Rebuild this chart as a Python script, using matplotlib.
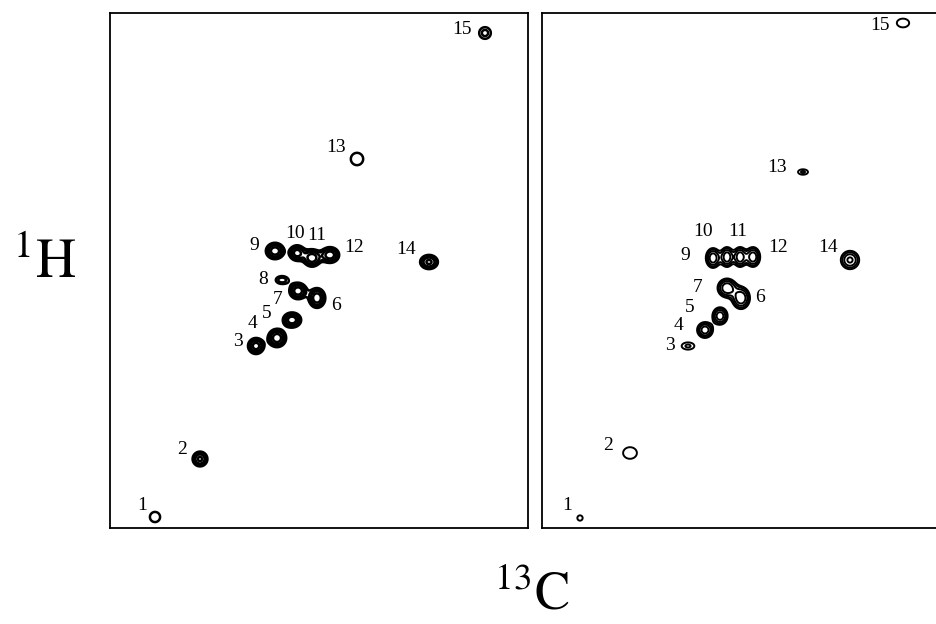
import matplotlib
matplotlib.use("Agg")
import matplotlib.pyplot as plt
import numpy as np

plt.rcParams['font.family'] = ['Liberation Serif', 'DejaVu Serif']
plt.rcParams['mathtext.fontset'] = 'stix'

# peak list, left spectrum (13C / 1H positions in arbitrary units, 10 px each)
left_ids = ['1', '2', '3', '4', '5', '6', '7', '8', '9', '10', '11', '12', '13', '14', '15']
left_c = [4.5, 9.0, 14.6, 16.7, 18.2, 20.7, 18.8, 17.2, 16.5, 18.7, 20.2, 22.0, 24.7, 31.9, 37.5]
left_h = [1.1, 6.9, 18.2, 19.0, 20.8, 23.0, 23.7, 24.8, 27.7, 27.5, 27.0, 27.3, 36.9, 26.6, 49.5]
left_amp = [1.3, 3.0, 3.3, 3.5, 3.5, 3.6, 3.5, 1.7, 3.5, 3.3, 3.5, 3.5, 1.3, 3.0, 1.6]
left_wc = [0.7, 0.5, 0.52, 0.58, 0.58, 0.52, 0.55, 0.6, 0.58, 0.5, 0.55, 0.58, 0.85, 0.6, 0.6]
left_wh = [0.7, 0.5, 0.52, 0.58, 0.48, 0.62, 0.52, 0.38, 0.52, 0.5, 0.55, 0.5, 0.85, 0.48, 0.6]
left_lab_c = [3.2, 7.2, 12.8, 14.3, 15.7, 22.6, 16.8, 15.3, 14.4, 18.5, 20.7, 24.4, 22.6, 29.6, 35.2]
left_lab_h = [2.3, 7.9, 18.7, 20.4, 21.5, 22.3, 22.9, 24.8, 28.3, 29.5, 29.2, 28.1, 38.0, 27.8, 49.8]

# peak list, right spectrum (no peak 8)
right_ids = ['1', '2', '3', '4', '5', '6', '7', '9', '10', '11', '12', '13', '14', '15']
right_c = [3.8, 8.8, 14.6, 16.3, 17.8, 19.9, 18.5, 17.1, 18.5, 19.8, 21.1, 26.1, 30.8, 36.1]
right_h = [1.0, 7.5, 18.2, 19.8, 21.2, 23.0, 24.0, 27.0, 27.1, 27.1, 27.1, 35.6, 26.8, 50.5]
right_amp = [1.15, 1.3, 1.5, 3.5, 3.5, 3.8, 3.8, 3.6, 3.6, 3.6, 3.6, 1.5, 3.0, 1.3]
right_wc = [0.5, 0.95, 0.7, 0.5, 0.48, 0.55, 0.58, 0.45, 0.4, 0.4, 0.45, 0.55, 0.62, 0.85]
right_wh = [0.5, 0.8, 0.4, 0.5, 0.55, 0.68, 0.58, 0.62, 0.62, 0.62, 0.62, 0.3, 0.62, 0.6]
right_lab_c = [2.5, 6.6, 12.8, 13.6, 14.8, 21.8, 15.6, 14.3, 16.1, 19.6, 23.6, 23.5, 28.6, 33.8]
right_lab_h = [2.3, 8.3, 18.3, 20.3, 22.1, 23.1, 24.1, 27.3, 29.6, 29.6, 28.1, 36.0, 28.0, 50.3]

levels = 1.4 ** np.arange(4)
c_max, h_max = 41.8, 51.5


def spectrum(c, h, amp, wc, wh):
    X, Y = np.meshgrid(np.linspace(0, c_max, 900), np.linspace(0, h_max, 1100))
    Z = np.zeros_like(X)
    for x0, y0, a, sx, sy in zip(c, h, amp, wc, wh):
        Z += a * np.exp(-0.5 * (((X - x0) / sx) ** 2 + ((Y - y0) / sy) ** 2))
    return X, Y, Z


def draw(ax, ids, c, h, amp, wc, wh, lab_c, lab_h, lw):
    X, Y, Z = spectrum(c, h, amp, wc, wh)
    ax.contour(X, Y, Z, levels=levels, colors='black', linewidths=lw)
    for s, x, y in zip(ids, lab_c, lab_h):
        ax.text(x, y, s, ha='center', va='center', fontsize=14)
    ax.set_xlim(0, c_max)
    ax.set_ylim(0, h_max)
    ax.set_xticks([])
    ax.set_yticks([])
    for sp in ax.spines.values():
        sp.set_linewidth(1.3)


fig = plt.figure(figsize=(9.37, 6.24), dpi=100)
ax1 = fig.add_axes([110 / 937, 96 / 624, 418 / 937, 515 / 624])
ax2 = fig.add_axes([542 / 937, 96 / 624, 418 / 937, 515 / 624])

draw(ax1, left_ids, left_c, left_h, left_amp, left_wc, left_wh, left_lab_c, left_lab_h, 1.8)
draw(ax2, right_ids, right_c, right_h, right_amp, right_wc, right_wh, right_lab_c, right_lab_h, 1.4)

fig.text(45 / 937, 1 - 264 / 624, r'$^{1}\mathrm{H}$', fontsize=40, ha='center', va='center')
fig.text(532 / 937, 1 - 596 / 624, r'$^{13}\mathrm{C}$', fontsize=38, ha='center', va='center')

fig.savefig('out.png', dpi=100)
